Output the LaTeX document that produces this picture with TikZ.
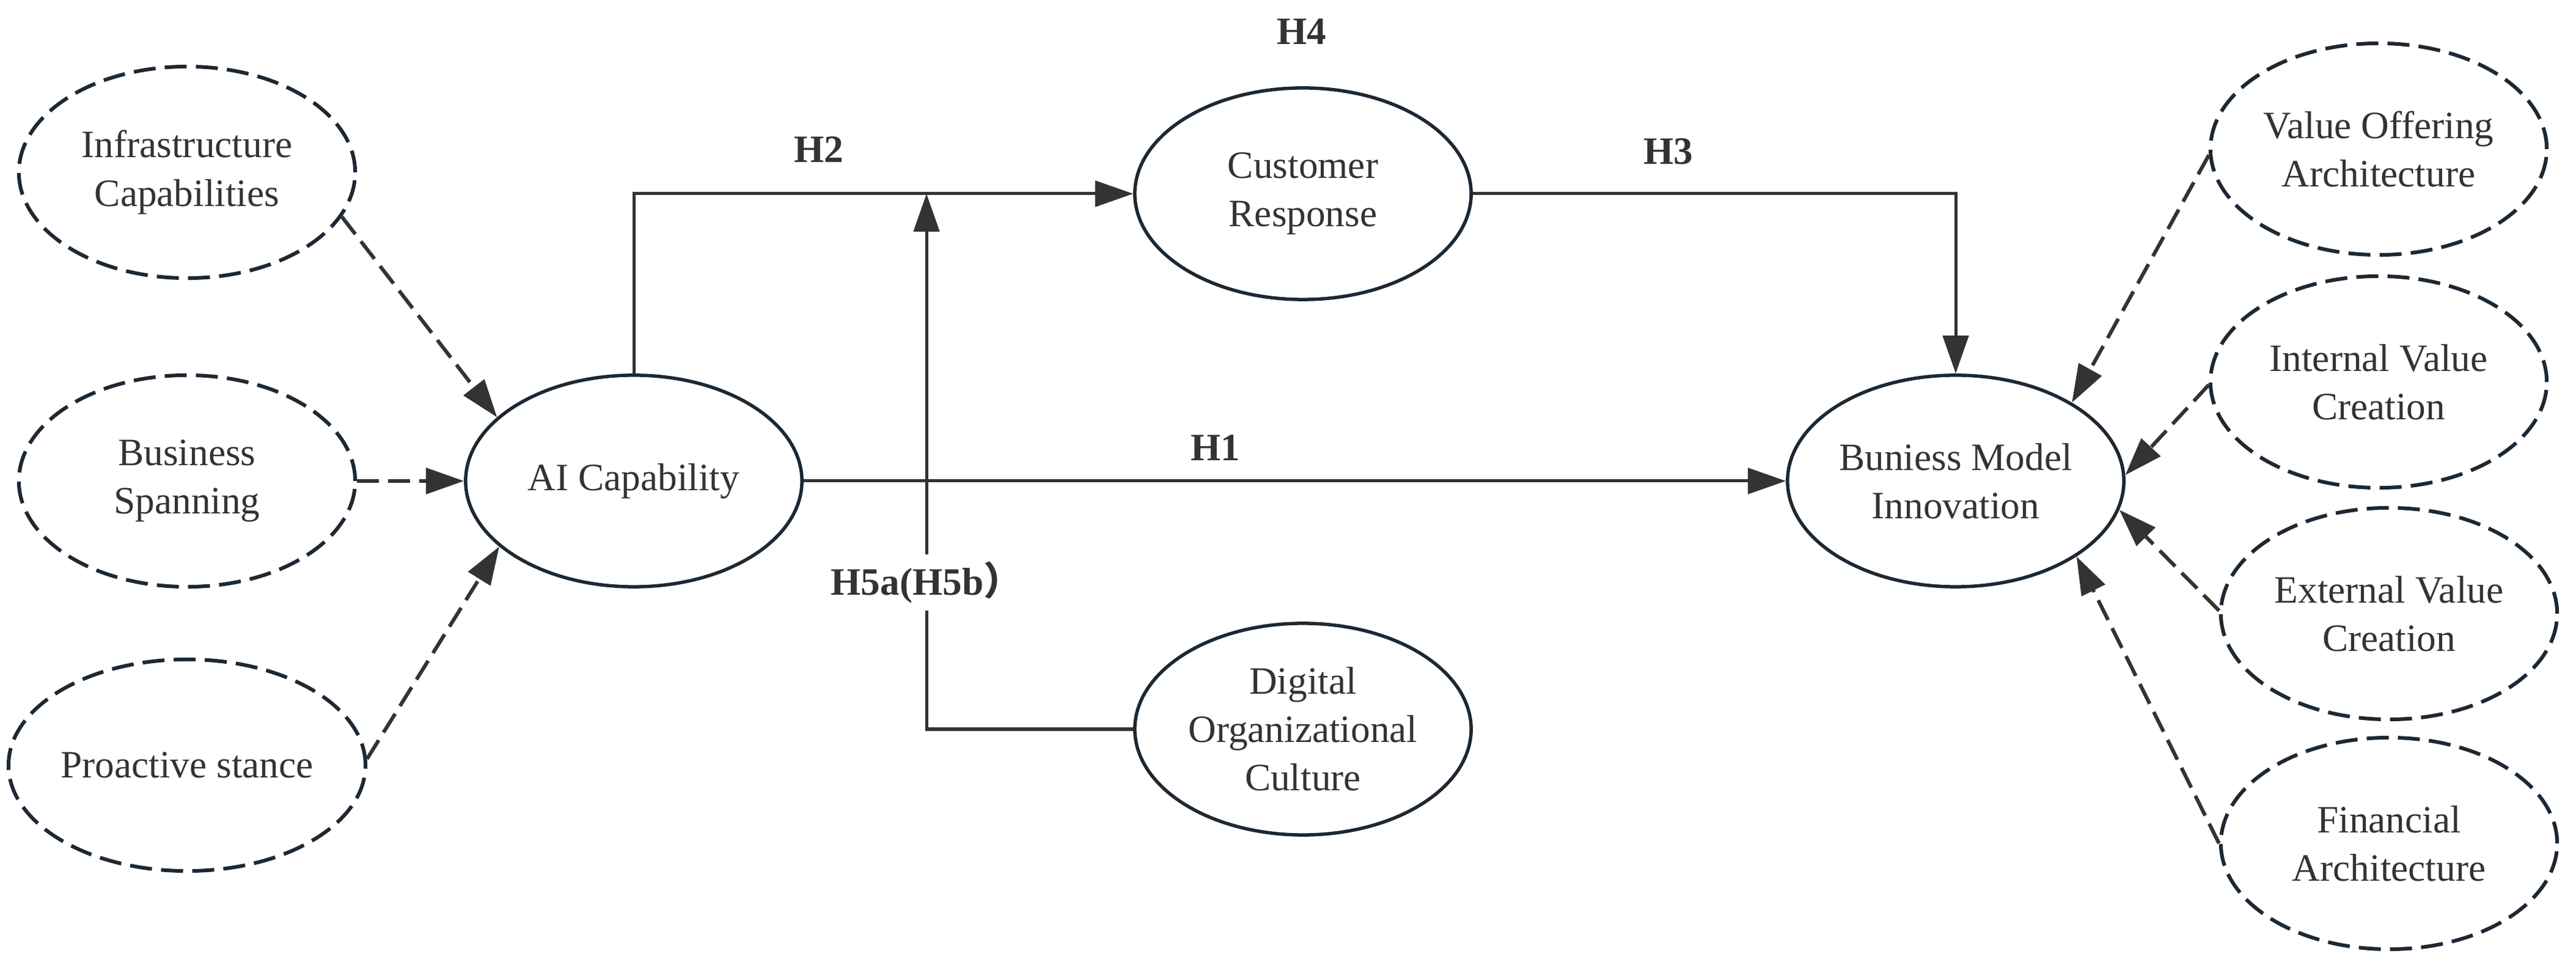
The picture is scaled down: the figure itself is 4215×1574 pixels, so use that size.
\documentclass[tikz,border=0pt]{standalone}
\usepackage{fontspec}
\setmainfont{Liberation Serif}
\newfontfamily\cjk{Noto Sans CJK SC}
\usetikzlibrary{shapes.geometric,arrows.meta}
\definecolor{ell}{HTML}{1C2833}
\definecolor{ln}{HTML}{333333}
\begin{document}
\begin{tikzpicture}[x=0.01cm,y=-0.01cm,
  base/.style={ellipse, draw=ell, line width=0.055cm, minimum width=5.5cm, minimum height=3.46cm,
    inner sep=0pt, align=center, text=ln, font=\fontsize{18}{22.5}\selectfont},
  latent/.style={base},
  dimnode/.style={base, line width=0.06cm, dash pattern=on 0.36cm off 0.15cm},
  hyp/.style={font=\fontsize{18}{22.5}\selectfont\bfseries, text=ln},
  link/.style={draw=ln, line width=0.05cm, -{Triangle[length=0.62cm,width=0.42cm]}},
  dlink/.style={link, line width=0.06cm, dash pattern=on 0.36cm off 0.15cm},
  plain/.style={draw=ln, line width=0.05cm},
]
\useasboundingbox (0,0) rectangle (4215,1574);

% nodes
\node[dimnode] (inf) at (306,282) {Infrastructure\\Capabilities};
\node[dimnode] (bs) at (306,787) {Business\\Spanning};
\node[dimnode] (ps) at (306,1252) {Proactive stance};
\node[latent] (ai) at (1037,787) {AI Capability};
\node[latent] (cr) at (2132,317) {Customer\\Response};
\node[latent] (doc) at (2132,1193) {Digital\\Organizational\\Culture};
\node[latent] (bmi) at (3200,787) {Buniess Model\\Innovation};
\node[dimnode] (voa) at (3892,244) {Value Offering\\Architecture};
\node[dimnode] (ivc) at (3892,625) {Internal Value\\Creation};
\node[dimnode] (evc) at (3909,1004) {External Value\\Creation};
\node[dimnode] (fa) at (3909,1380) {Financial\\Architecture};

% labels
\node[hyp] (h4) at (2130,52) {H4};
\node[hyp] (h2) at (1340,245) {H2};
\node[hyp] (h3) at (2730,248) {H3};
\node[hyp] (h1) at (1989,733) {H1};
\node[hyp, minimum height=0.9cm, inner sep=0pt] (h5) at (1516,953) {H5a(H5b{\cjk ）}};

% structural paths
\draw[link] (ai.north) |- (cr.west);
\draw[link] (cr.east) -| (bmi.north);
\draw[link] (ai.east) -- (bmi.west);
\draw[plain] (doc.west) -| (h5.south);
\draw[link] (h5.north) -- (h5.north |- cr.west);

% measurement paths
\draw[dlink] (inf.-16) -- (ai.155.6);
\draw[dlink] (bs.east) -- (ai.west);
\draw[dlink] (ps.2) -- (ai.206);
\draw[dlink] (voa.182) -- (bmi.34);
\draw[dlink] (ivc.181) -- (bmi.2);
\draw[dlink] (evc.179) -- (bmi.-10.5);
\draw[dlink] (fa.180) -- (bmi.-32);
\end{tikzpicture}
\end{document}
